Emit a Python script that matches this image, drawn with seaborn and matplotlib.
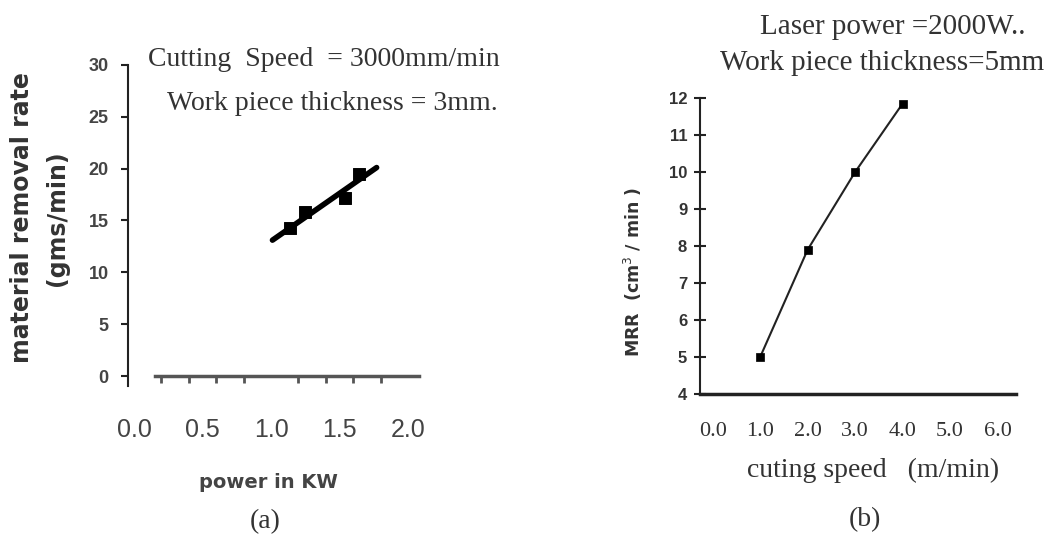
import matplotlib.pyplot as plt
import seaborn as sns

# panel (a): material removal rate vs laser power
power_kw = [1.14, 1.25, 1.54, 1.64]
rate_gms = [14.3, 15.8, 17.2, 19.5]
fit_kw = [1.01, 1.77]
fit_gms = [13.1, 20.1]
power_ticks = [0.0, 0.5, 1.0, 1.5, 2.0]
power_minor = [0.2, 0.4, 0.6, 0.8, 1.0, 1.2, 1.4, 1.6, 1.8, 2.0]
rate_ticks = [0, 5, 10, 15, 20, 25, 30]

# panel (b): MRR vs cutting speed
speed = [1.0, 2.0, 3.0, 4.0]
mrr_cm3 = [5.0, 7.9, 10.0, 11.85]
speed_ticks = [0, 1, 2, 3, 4, 5, 6]
mrr_ticks = [4, 5, 6, 7, 8, 9, 10, 11, 12]

sns.set_style("white")
plt.rcParams["font.family"] = ["DejaVu Sans"]

W, H = 1049, 545


def fxy(x, y):
    return x / W, 1 - y / H


serif = "Liberation Serif"
narrow = ["Liberation Sans Narrow", "Liberation Sans", "DejaVu Sans"]

fig = plt.figure(figsize=(W / 100, H / 100), dpi=100)
fig.patch.set_facecolor("white")

# ---------------- (a) ----------------
ax = fig.add_axes([0.122, 0.291, 0.288, 0.590])
sns.lineplot(x=fit_kw, y=fit_gms, ax=ax, color="black", lw=4, solid_capstyle="round")
sns.scatterplot(x=power_kw, y=rate_gms, ax=ax, color="black", marker="s", s=70,
                edgecolor="black", zorder=3)
ax.set_xlim(-0.044, 2.16)
ax.set_ylim(-1, 30)
for side in ["top", "right"]:
    ax.spines[side].set_visible(False)
ax.spines["left"].set_color("#222222")
ax.spines["left"].set_linewidth(1.5)
ax.spines["bottom"].set_position(("data", 0))
ax.spines["bottom"].set_bounds(0.15, 2.08)
ax.spines["bottom"].set_color("#555555")
ax.spines["bottom"].set_linewidth(2.5)
ax.set_yticks(rate_ticks)
ax.set_yticklabels([str(t) for t in rate_ticks], fontsize=13, fontweight="bold",
                   color="#444444", family=narrow)
ax.tick_params(axis="y", left=True, direction="out", length=5, width=1.5,
               color="#222222", pad=9)
ax.set_xticks(power_ticks)
ax.set_xticklabels([f"{t:.1f}" for t in power_ticks], fontsize=18, color="#444444",
                   family=["Liberation Sans", "DejaVu Sans"])
ax.set_xticks(power_minor, minor=True)
ax.tick_params(axis="x", which="major", bottom=True, length=0, pad=30)
ax.tick_params(axis="x", which="minor", bottom=True, direction="out", length=5, width=2,
               color="#555555")
ax.set_xlabel("")
ax.set_ylabel("")

fig.text(*fxy(324, 60), "Cutting  Speed  = 3000mm/min", family=serif, fontsize=20,
         color="#333333", ha="center", va="center")
fig.text(*fxy(332, 103), "Work piece thickness = 3mm.", family=serif, fontsize=20,
         color="#333333", ha="center", va="center")
fig.text(*fxy(22, 218), "material removal rate", rotation=90, fontsize=17,
         fontweight="bold", color="#333333", ha="center", va="center")
fig.text(*fxy(57, 218), "(gms/min)", rotation=90, fontsize=17,
         fontweight="bold", color="#333333", ha="center", va="center")
fig.text(*fxy(268, 483), "power in KW", fontsize=14, fontweight="bold",
         color="#444444", ha="center", va="center")
fig.text(*fxy(265, 522), "(a)", family=serif, fontsize=20, color="#333333",
         ha="center", va="center")

# ---------------- (b) ----------------
bx = fig.add_axes([0.667, 0.277, 0.302, 0.543])
sns.lineplot(x=speed, y=mrr_cm3, ax=bx, color="#222222", lw=1.5)
sns.scatterplot(x=speed, y=mrr_cm3, ax=bx, color="black", marker="s", s=40,
                edgecolor="black", zorder=3, clip_on=False)
bx.set_xlim(-0.274, 6.4)
bx.set_ylim(4, 12)
for side in ["top", "right"]:
    bx.spines[side].set_visible(False)
bx.spines["left"].set_color("#222222")
bx.spines["left"].set_linewidth(1.5)
bx.spines["bottom"].set_color("#222222")
bx.spines["bottom"].set_linewidth(2.5)
bx.set_yticks(mrr_ticks)
bx.set_yticklabels([str(t) for t in mrr_ticks], fontsize=12, fontweight="bold",
                   color="#333333", family=narrow)
bx.tick_params(axis="y", left=True, direction="inout", length=8, width=1.5,
               color="#222222", pad=5)
bx.set_xticks(speed_ticks)
bx.set_xticklabels([f"{t:.1f}" for t in speed_ticks], fontsize=16, color="#333333",
                   family=serif)
bx.tick_params(axis="x", length=0, pad=20)
bx.set_xlabel("")
bx.set_ylabel("")

fig.text(*fxy(893, 27), "Laser power =2000W..", family=serif, fontsize=21,
         color="#333333", ha="center", va="center")
fig.text(*fxy(882, 63), "Work piece thickness=5mm", family=serif, fontsize=21,
         color="#333333", ha="center", va="center")
fig.text(*fxy(633, 272), "MRR  (cm$^3$ / min )", rotation=90, fontsize=12.5,
         fontweight="bold", color="#333333", ha="center", va="center")
fig.text(*fxy(873, 470), "cuting speed   (m/min)", family=serif, fontsize=20,
         color="#333333", ha="center", va="center")
fig.text(*fxy(865, 520), "(b)", family=serif, fontsize=20, color="#333333",
         ha="center", va="center")

fig.savefig("out.png", dpi=100)
